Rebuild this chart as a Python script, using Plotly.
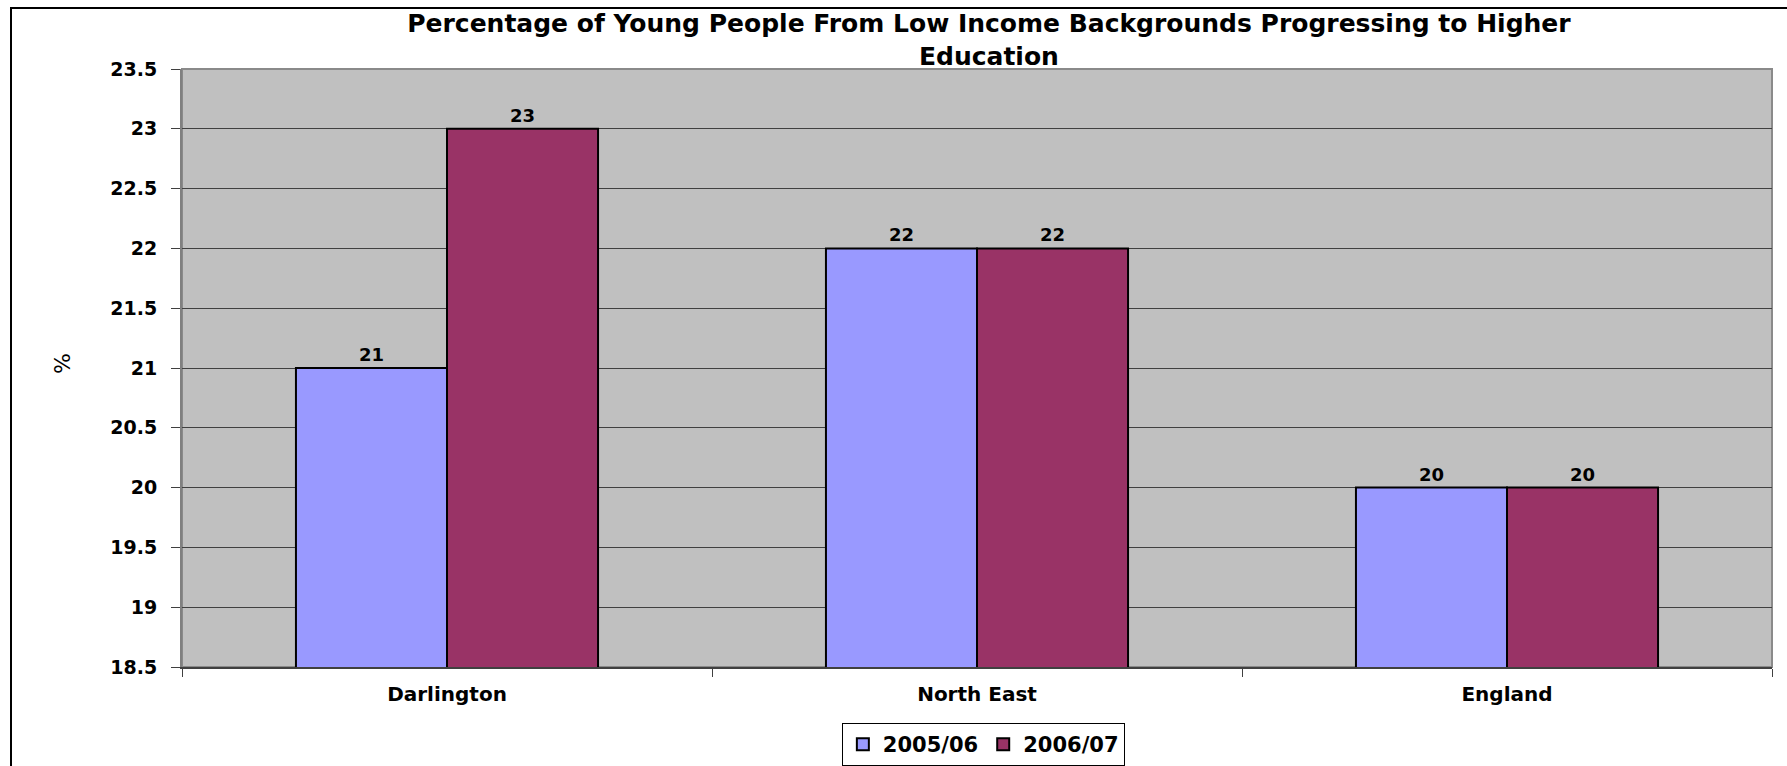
import plotly.graph_objects as go

categories = ["Darlington", "North East", "England"]
series_names = ["2005/06", "2006/07"]
values_2005 = [21, 22, 20]
values_2006 = [23, 22, 20]
y_ticks = [18.5, 19, 19.5, 20, 20.5, 21, 21.5, 22, 22.5, 23, 23.5]

FONT = "DejaVu Sans"
colors = ["#9999FF", "#993366"]

W, H = 1787, 766
L, R, T, B = 182, 15, 69, 99
PW, PH = W - L - R, H - T - B

fig = go.Figure()
for name, vals, col in zip(series_names, [values_2005, values_2006], colors):
    fig.add_trace(go.Bar(
        x=categories, y=vals, name=name,
        marker=dict(color=col, line=dict(color="#000000", width=2)),
        text=[str(v) for v in vals], textposition="outside",
        textfont=dict(family=FONT, size=18, color="#000000", weight="bold"),
        cliponaxis=False,
    ))

fig.update_layout(
    width=W, height=H,
    margin=dict(l=L, r=R, t=T, b=B, autoexpand=False),
    paper_bgcolor="#FFFFFF",
    plot_bgcolor="#C0C0C0",
    barmode="group",
    bargap=0.43, bargroupgap=0,
    font=dict(family=FONT, color="#000000"),
    title=dict(
        text="Percentage of Young People From Low Income Backgrounds Progressing to Higher<br>Education",
        font=dict(family=FONT, size=25, color="#000000", weight="bold"),
        x=0.5534, xanchor="center", xref="container",
        y=0.958, yanchor="top", yref="container",
    ),
    xaxis=dict(
        showgrid=False, showline=True, linecolor="#404040", linewidth=2,
        ticks="outside", tickson="boundaries", ticklen=8, tickcolor="#404040",
        ticklabelstandoff=8, automargin=False,
        tickfont=dict(family=FONT, size=20, color="#000000", weight="bold"),
    ),
    yaxis=dict(
        range=[18.5, 23.5], tickvals=y_ticks,
        ticktext=[f"{t:g}" for t in y_ticks],
        showgrid=True, gridcolor="#404040", gridwidth=1,
        showline=True, linecolor="#808080", linewidth=2,
        ticks="outside", ticklen=9, tickcolor="#404040",
        ticklabelstandoff=10, automargin=False,
        tickfont=dict(family=FONT, size=19, color="#000000", weight="bold"),
        zeroline=False,
    ),
    legend=dict(
        orientation="h", x=0.504, xanchor="center",
        y=-(723 - (T + PH)) / PH, yanchor="top",
        bordercolor="#000000", borderwidth=1, bgcolor="#FFFFFF",
        font=dict(family=FONT, size=21, color="#000000", weight="bold"),
        tracegroupgap=0,
    ),
    showlegend=True,
    annotations=[
        dict(text="%", xref="paper", yref="paper",
             x=(62 - L) / PW, y=(T + PH - 364) / PH,
             xanchor="center", yanchor="middle", showarrow=False, textangle=-90,
             font=dict(family=FONT, size=22, color="#000000")),
    ],
    shapes=[
        dict(type="rect", xref="paper", yref="paper",
             x0=(11 - L) / PW, x1=1.05, y0=-0.3, y1=(T + PH - 8) / PH,
             line=dict(color="#000000", width=2), fillcolor="rgba(0,0,0,0)", layer="below"),
        dict(type="rect", xref="paper", yref="paper", x0=0, x1=1, y0=0, y1=1,
             line=dict(color="#8A8A8A", width=2), fillcolor="rgba(0,0,0,0)", layer="below"),
    ],
)

fig.write_html(
    "out.html",
    config={"displayModeBar": False},
    post_script="document.body.style.margin='0';document.body.style.overflow='hidden';",
)
